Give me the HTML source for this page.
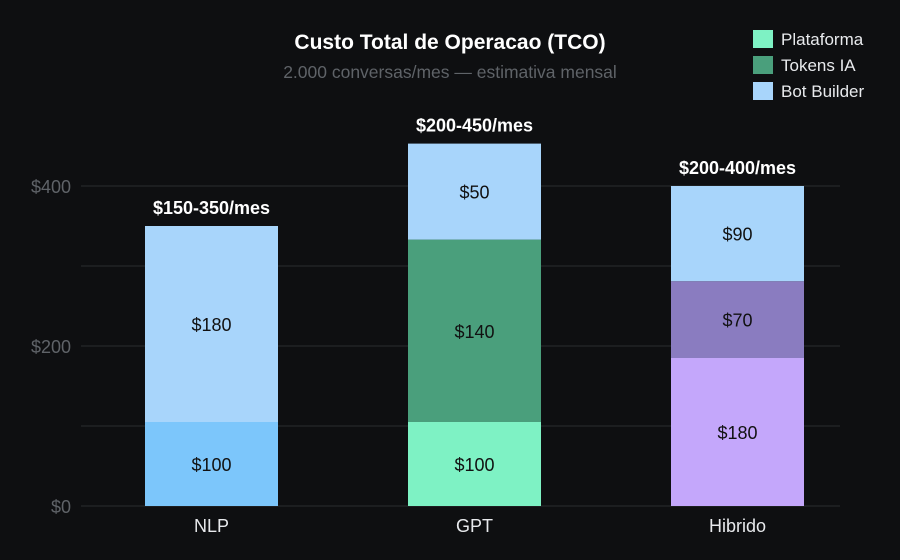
<!DOCTYPE html>
<html><head><meta charset="utf-8"><style>
html,body{margin:0;padding:0;background:#0e0f11;}
svg{display:block;font-family:"Liberation Sans",sans-serif;}
</style></head><body>
<svg id="c" width="900" height="560" viewBox="0 0 900 560">
<rect width="900" height="560" fill="#0e0f11"/>
<text x="450" y="49" text-anchor="middle" fill="#ffffff" font-size="21" font-weight="bold">Custo Total de Operacao (TCO)</text>
<text x="450" y="78" text-anchor="middle" fill="#5f6368" font-size="17.5">2.000 conversas/mes — estimativa mensal</text>
<g id="grid"></g><g id="bars"></g><g id="legend"></g>
</svg>
<script>
const categories=["NLP","GPT","Hibrido"];
const segValues=[[105,245],[105,228,120],[185,96,119]];
const segLabels=[["$100","$180"],["$100","$140","$50"],["$180","$70","$90"]];
const segColors=[["#7cc6fb","#a8d5fb"],["#7ef2c4","#4a9f7c","#a8d5fb"],["#c4a7fb","#8a7cc0","#a8d5fb"]];
const totals=["$150-350/mes","$200-450/mes","$200-400/mes"];
const ticks=[0,100,200,300,400];
const tickLabels=["$0","","$200","","$400"];
const legendNames=["Plataforma","Tokens IA","Bot Builder"];
const legendColors=["#7ef2c4","#4a9f7c","#a8d5fb"];
const NS="http://www.w3.org/2000/svg";
const y0=506,k=0.8;
const y=v=>y0-v*k;
const x=i=>145+i*263;
const bw=133;
function mk(t,a,p){const e=document.createElementNS(NS,t);for(const n in a)e.setAttribute(n,a[n]);p.appendChild(e);return e;}
const g=document.getElementById('grid'),b=document.getElementById('bars'),l=document.getElementById('legend');
ticks.forEach((t,i)=>{
 const ln=mk('line',{x1:81,x2:840,y1:y(t),y2:y(t),stroke:"#2a2c30","stroke-width":1},g);
 
 
 if(tickLabels[i]){const tx=mk('text',{x:71,y:y(t)+7,"text-anchor":"end",fill:"#5f6368","font-size":18},g);tx.textContent=tickLabels[i];
 
 }
});
categories.forEach((c,i)=>{
 let acc=0;
 segValues[i].forEach((v,j)=>{
  const r=mk('rect',{x:x(i),y:y(acc+v),width:bw,height:v*k,fill:segColors[i][j]},b);
  
  
  const t=mk('text',{x:x(i)+bw/2,y:y(acc+v/2)+7,"text-anchor":"middle",fill:"#111","font-size":18},b);t.textContent=segLabels[i][j];
  
  
  acc+=v;
 });
 const tt=mk('text',{x:x(i)+bw/2,y:y(acc)-12,"text-anchor":"middle",fill:"#fff","font-size":18,"font-weight":"bold"},b);tt.textContent=totals[i];
 
 
 const ct=mk('text',{x:x(i)+bw/2,y:532,"text-anchor":"middle",fill:"#e8eaed","font-size":18},b);ct.textContent=c;
 
 
});
legendNames.forEach((n,i)=>{
 const r=mk('rect',{x:753,y:30+i*26,width:20,height:18,fill:legendColors[i]},l);
 
 
 const t=mk('text',{x:781,y:45+i*26,fill:"#e8eaed","font-size":17},l);t.textContent=n;
 
 
});
</script>
</body></html>
